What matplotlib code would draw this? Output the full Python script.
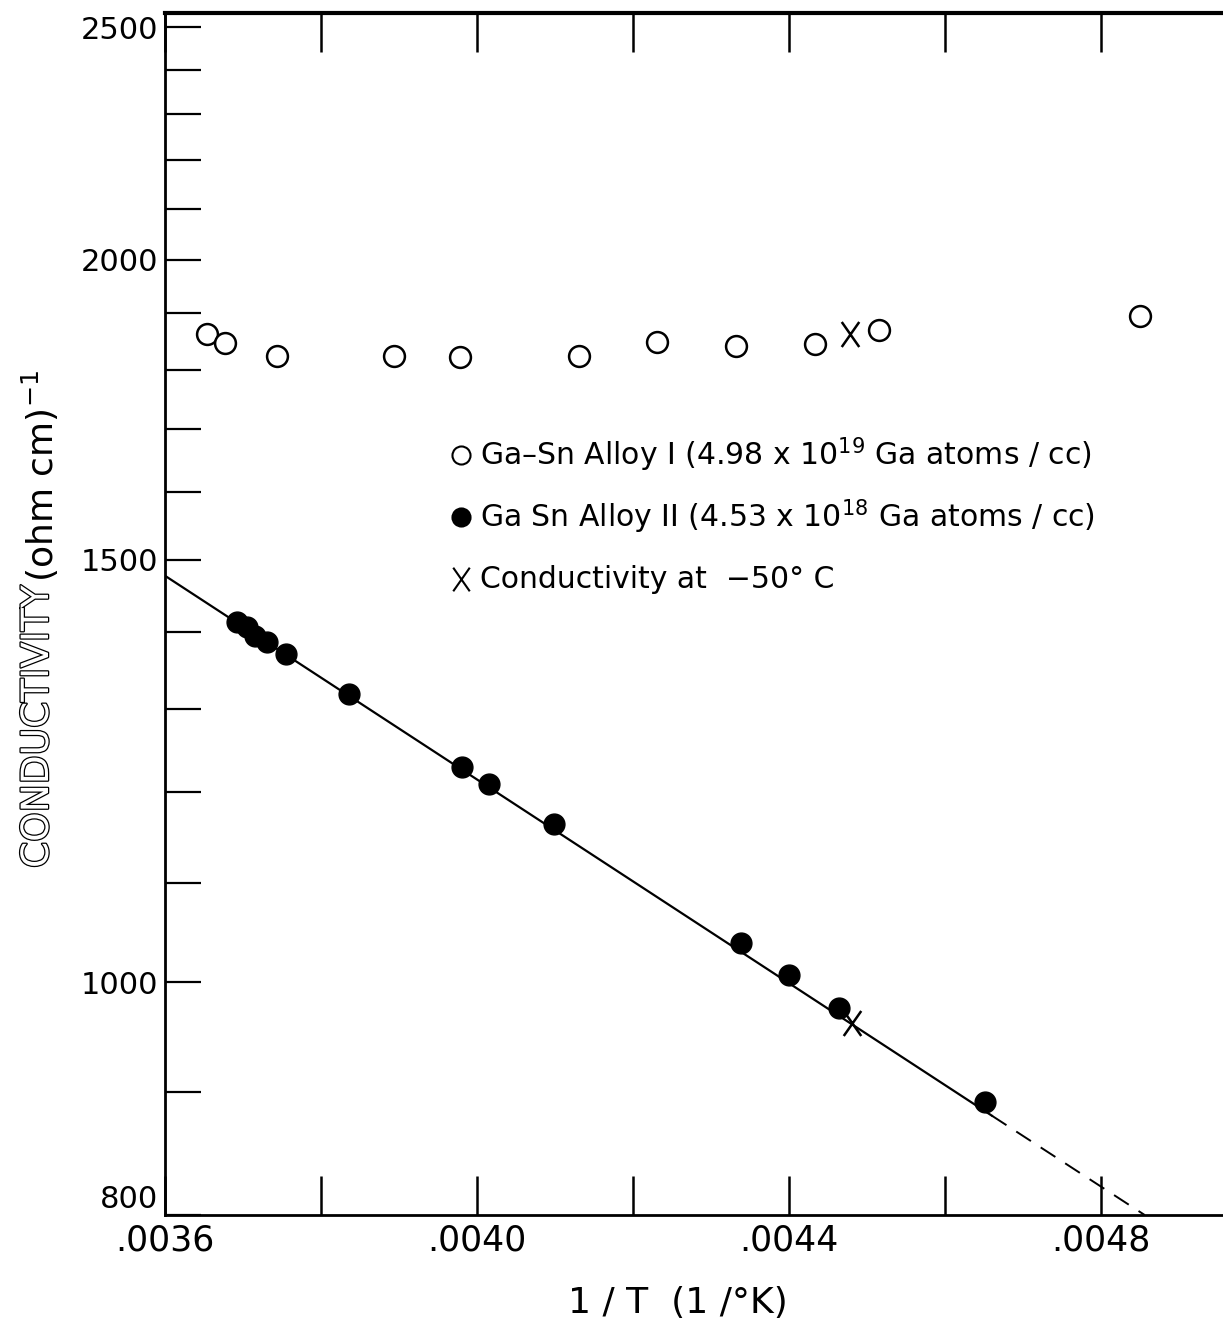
import matplotlib
matplotlib.use("Agg")
import matplotlib.pyplot as plt
import matplotlib.patheffects as pe
from matplotlib.path import Path
from matplotlib.ticker import FixedLocator, FuncFormatter, NullLocator

# Ga-Sn alloy I (open circles)
alloy1_x = [0.003654, 0.003677, 0.003744, 0.003894, 0.003978, 0.004131,
            0.004231, 0.004332, 0.004433, 0.004515, 0.004850]
alloy1_y = [1862, 1847, 1824, 1824, 1822, 1824, 1848, 1841, 1844, 1869, 1894]

# Ga Sn alloy II (filled circles)
alloy2_x = [0.003692, 0.003705, 0.003715, 0.003731, 0.003755, 0.003836,
            0.003981, 0.004015, 0.004099, 0.004338, 0.004400, 0.004464, 0.004651]
alloy2_y = [1413, 1406, 1394, 1386, 1370, 1318, 1230, 1209, 1164, 1038, 1007, 976, 892]

# conductivity at -50 C
cold_x = [0.004478, 0.004481]
cold_y = [1863, 962]

# straight line through alloy II, solid then dashed extrapolation
fit_x = [0.0036, 0.00466, 0.004856]
fit_y = [1477, 880, 800]

y_ticks = list(range(800, 2600, 100))
y_labelled = [800, 1000, 1500, 2000, 2500]
x_ticks = [0.0036, 0.0038, 0.0040, 0.0042, 0.0044, 0.0046, 0.0048]
x_labelled = [0.0036, 0.0040, 0.0044, 0.0048]

# thin, slightly tall letter-like X
X_MARK = Path([(-0.7, -1), (0.7, 1), (-0.7, 1), (0.7, -1)],
              [Path.MOVETO, Path.LINETO, Path.MOVETO, Path.LINETO])

legend_rows = [
    ("o", "white", 13, r"Ga–Sn Alloy I (4.98 x 10$^{19}$ Ga atoms / cc)"),
    ("o", "black", 13, r"Ga Sn Alloy II (4.53 x 10$^{18}$ Ga atoms / cc)"),
    (X_MARK, "none", 17, "Conductivity at  −50° C"),
]

W, H = 1223, 1327
fig = plt.figure(figsize=(W / 100, H / 100), dpi=100)
ax = fig.add_axes([165 / W, 1 - 1215 / H, 1 - 165 / W, (1215 - 13) / H])

ax.plot(fit_x[:2], fit_y[:2], color="black", lw=1.6)
ax.plot(fit_x[1:], fit_y[1:], color="black", lw=1.4, dashes=(9, 6))

ax.plot(alloy1_x, alloy1_y, marker="o", ms=15, mfc="white", mec="black", mew=1.8, ls="none")
ax.plot(alloy2_x, alloy2_y, marker="o", ms=15, mfc="black", mec="black", ls="none")
ax.plot(cold_x, cold_y, marker=X_MARK, ms=18, mfc="none", mec="black", mew=1.8, ls="none")

ax.set_yscale("log")
ax.set_xlim(0.0036, 0.0036 + (W - 165) / 780000)
ax.set_ylim(800, 2534)

# the bottom label (800) sits a little above the corner, drawn separately
ax.yaxis.set_major_locator(FixedLocator(y_ticks))
ax.yaxis.set_minor_locator(NullLocator())
ax.yaxis.set_major_formatter(FuncFormatter(
    lambda v, p: "%d" % round(v) if round(v) in y_labelled[1:] else ""))
ax.annotate("%d" % y_labelled[0], xy=(0, y_labelled[0]), xycoords=("axes fraction", "data"),
            xytext=(-5, 11), textcoords="offset points", ha="right", va="center", fontsize=22)

ax.xaxis.set_major_locator(FixedLocator(x_ticks))
ax.xaxis.set_major_formatter(FuncFormatter(
    lambda v, p: ("%.4f" % v)[1:] if any(abs(v - t) < 1e-9 for t in x_labelled) else ""))

ax.tick_params(axis="y", direction="in", length=26, width=1.6, labelsize=22, pad=5,
               left=True, right=False)
ax.tick_params(axis="x", direction="in", length=28, width=1.8, labelsize=25, pad=6,
               top=True, bottom=True)

for s in ["left", "bottom"]:
    ax.spines[s].set_linewidth(2.0)
ax.spines["top"].set_linewidth(3.0)
ax.spines["right"].set_visible(False)

# legend written into the plot area
for i, (mk, fc, size, txt) in enumerate(legend_rows):
    yy = 1 - (455 + 62 * i) / H
    fig.lines.append(plt.Line2D([461 / W], [yy], marker=mk, ms=size,
                                mfc=fc, mec="black", mew=1.5,
                                ls="none", transform=fig.transFigure))
    fig.text(480 / W, yy, txt, fontsize=21.5, va="center", ha="left")

# y label: hollow capitals then the units
fig.text(38 / W, 1 - 868 / H, "CONDUCTIVITY", rotation=90, fontsize=27,
         ha="center", va="bottom", color="white",
         path_effects=[pe.withStroke(linewidth=1.8, foreground="black")])
fig.text(40 / W, 1 - 582 / H, r"(ohm cm)$^{-1}$", rotation=90, fontsize=26,
         ha="center", va="bottom")

fig.text(678 / W, 1 - 1303 / H, "1 / T  (1 /°K)", fontsize=26, ha="center", va="center")

fig.savefig("out.png", dpi=100)
